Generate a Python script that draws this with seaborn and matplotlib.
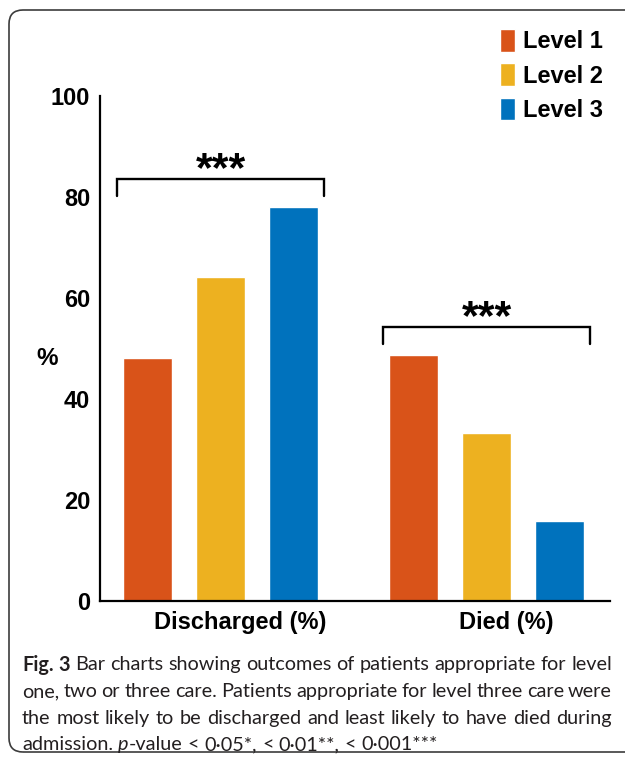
import matplotlib
matplotlib.use("Agg")
import matplotlib.pyplot as plt
import matplotlib.transforms as mtransforms
from matplotlib.patches import FancyBboxPatch
import pandas as pd
import seaborn as sns

# ---- data -------------------------------------------------------------
outcomes = ["Discharged (%)", "Died (%)"]
levels = ["Level 1", "Level 2", "Level 3"]
discharged_pct = [48.1, 64.2, 78.0]
died_pct = [48.7, 33.3, 15.8]
level_colors = ["#D95319", "#EDB120", "#0072BD"]
yticks = [0, 20, 40, 60, 80, 100]
significance = ["***", "***"]

df = pd.DataFrame({
    "Outcome": [outcomes[0]] * len(levels) + [outcomes[1]] * len(levels),
    "Level": levels * 2,
    "Percent": discharged_pct + died_pct,
})

# ---- style ------------------------------------------------------------
sns.set_theme(style="white")
plt.rcParams["font.family"] = ["Liberation Sans", "DejaVu Sans"]
plt.rcParams["text.color"] = "black"

W, H = 625, 759
fig = plt.figure(figsize=(W / 100, H / 100), dpi=100)
fig.patch.set_facecolor("white")

# axes box in pixel terms
ax = fig.add_axes([100 / W, 1 - 601 / H, 510 / W, 505 / H])

sns.barplot(
    data=df, x="Outcome", y="Percent", hue="Level",
    order=outcomes, hue_order=levels, palette=level_colors,
    width=0.82, gap=0.33, saturation=1, errorbar=None, ax=ax,
)

ax.set_xlim(-0.453, 1.464)
ax.set_ylim(0, 100)
ax.set_yticks(yticks)
ax.set_yticklabels([str(v) for v in yticks], fontsize=17, fontweight="bold")
ax.set_xlabel("")
ax.set_ylabel("")
ax.tick_params(axis="both", length=0, colors="black")
ax.tick_params(axis="y", pad=7)
ax.tick_params(axis="x", pad=7)
for lab in ax.get_xticklabels():
    lab.set_fontsize(17)
    lab.set_fontweight("bold")
    lab.set_transform(lab.get_transform() +
                      mtransforms.ScaledTranslation(0.2, 0, fig.dpi_scale_trans))

sns.despine(ax=ax)
for side in ("left", "bottom"):
    ax.spines[side].set_linewidth(1.6)
    ax.spines[side].set_color("black")
ax.grid(False)

ax.text(-0.104, 0.48, "%", transform=ax.transAxes, fontsize=17.5,
        fontweight="bold", ha="center", va="center")

# significance brackets
group_vals = [discharged_pct, died_pct]
half = 0.39
for i, (vals, mark) in enumerate(zip(group_vals, significance)):
    low = max(vals) + 2.2
    high = low + 3.3
    ax.plot([i - half, i - half, i + half, i + half], [low, high, high, low],
            color="black", lw=1.7, solid_joinstyle="miter", clip_on=False)
    ax.text(i, high - 2.1, mark, ha="center", va="bottom", fontsize=31,
            fontweight="bold", clip_on=False)

# legend
handles, labels = ax.get_legend_handles_labels()
if ax.legend_ is not None:
    ax.legend_.remove()
fig.legend(handles, labels, loc="upper left",
           bbox_to_anchor=(500 / W, 1 - 29 / H), frameon=False,
           borderpad=0, borderaxespad=0, handlelength=0.64, handleheight=1.1,
           handletextpad=0.34, labelspacing=0.42,
           prop={"size": 17, "weight": "bold"})

# ---- caption ------------------------------------------------------------
def words_of(line, style="normal"):
    return [[(w, style)] for w in line.split()]

caption = [
    [[("Fig.", "bold")], [("3", "bold")]]
    + words_of("Bar charts showing outcomes of patients appropriate for level"),
    words_of("one, two or three care. Patients appropriate for level three care were"),
    words_of("the most likely to be discharged and least likely to have died during"),
    words_of("admission.") + [[("p", "italic"), ("-value", "normal")]]
    + words_of("< 0·05*, < 0·01**, < 0·001***"),
]
justify = [True, True, True, False]
cap_y = [663, 690, 717, 743]
cap_x0, cap_x1 = 22, 612
cap_size = 14.3
cap_family = ["Lato", "DejaVu Sans"]
cap_color = "#231f20"

renderer = fig.canvas.get_renderer()


def seg_text(x, y, s, style):
    kw = {}
    if style == "bold":
        kw["fontweight"] = "bold"
    elif style == "italic":
        kw["fontstyle"] = "italic"
    return fig.text(x / W, 1 - y / H, s, fontsize=cap_size, family=cap_family,
                    color=cap_color, ha="left", va="center_baseline", **kw)


def width_of(s, style="normal"):
    t = seg_text(0, 0, s, style)
    w = t.get_window_extent(renderer).width
    t.remove()
    return w


space_w = width_of("n n") - width_of("nn")

for words, just, y in zip(caption, justify, cap_y):
    widths = [sum(width_of(s, st) for s, st in word) for word in words]
    gap = space_w
    if just and len(words) > 1:
        gap = (cap_x1 - cap_x0 - sum(widths)) / (len(words) - 1)
    x = cap_x0
    for word, w in zip(words, widths):
        xx = x
        for s, st in word:
            t = seg_text(xx, y, s, st)
            xx += t.get_window_extent(renderer).width
        x += w + gap

# rounded frame around the whole figure
frame = FancyBboxPatch((0.09, 0.07), 6.6, 7.42,
                       boxstyle="round,pad=0,rounding_size=0.14",
                       transform=fig.dpi_scale_trans, facecolor="none",
                       edgecolor="#3c3c3c", linewidth=1.2, clip_on=False)
fig.patches.append(frame)

fig.savefig("out.png", dpi=100, facecolor="white")
